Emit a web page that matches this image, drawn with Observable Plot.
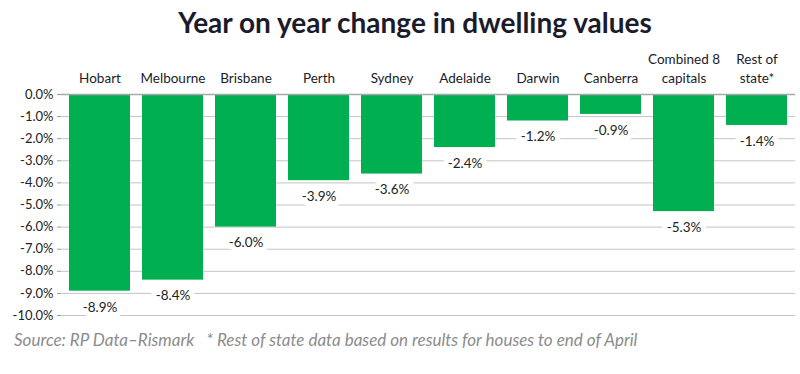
<!DOCTYPE html>
<html>
<head>
<meta charset="utf-8">
<script src="https://cdn.jsdelivr.net/npm/d3@7"></script>
<script src="https://cdn.jsdelivr.net/npm/@observablehq/plot@0.6"></script>
<style>
  html, body { margin: 0; padding: 0; background: #fff; }
  body { width: 800px; height: 374px; overflow: hidden; font-family: Lato, "Open Sans", sans-serif; }
  #title { height: 44px; line-height: 44px; font-size: 28px; font-weight: bold; color: #1b1b2b; text-align: center; padding-left: 30px; box-sizing: border-box; }
  #caption { font-size: 17px; font-style: italic; color: #8c8c8c; padding-left: 14px; margin-top: 4px; }
</style>
</head>
<body>
<div id="title">Year on year change in dwelling values</div>
<div id="chart"></div>
<div id="caption">Source: RP Data–Rismark&nbsp;&nbsp;&nbsp;* Rest of state data based on results for houses to end of April</div>
<script>
const categories = ["Hobart", "Melbourne", "Brisbane", "Perth", "Sydney", "Adelaide", "Darwin", "Canberra", "Combined 8\ncapitals", "Rest of\nstate*"];
const values = [-8.9, -8.4, -6.0, -3.9, -3.6, -2.4, -1.2, -0.9, -5.3, -1.4];
const yTicks = [0, -1, -2, -3, -4, -5, -6, -7, -8, -9, -10];

const data = categories.map((c, i) => ({category: c, value: values[i]}));
const fmt = d => (d === 0 ? "0.0" : d.toFixed(1)) + "%";

const chart = Plot.plot({
  width: 800,
  height: 281,
  marginTop: 50,
  marginBottom: 10,
  marginLeft: 61,
  marginRight: 5,
  style: {fontFamily: "Lato, 'Open Sans', sans-serif", fontSize: "12.5px", color: "#222", background: "#fff"},
  x: {domain: categories, paddingInner: 0.16, paddingOuter: 0.04, axis: null, label: null},
  y: {domain: [-10, 0], axis: null, label: null},
  marks: [
    Plot.ruleY(yTicks, {stroke: "#c4c4c4", strokeWidth: 1}),
    Plot.barY(data, {x: "category", y: "value", fill: "#00b050"}),
    Plot.text(data, {x: "category", y: "value", text: d => fmt(d.value), dy: 16, fill: "#222",
      stroke: "white", strokeWidth: 11, paintOrder: "stroke", fontSize: 13.5}),
    Plot.ruleY([0], {stroke: "#a8a8a8", strokeWidth: 1.5}),
    Plot.ruleX([0], {frameAnchor: "left", stroke: "#9a9a9a", strokeWidth: 1.5}),
    Plot.axisY(yTicks, {anchor: "left", label: null, tickFormat: fmt, tickSize: 4, tickPadding: 4, stroke: "#9a9a9a", fill: "#222", fontSize: 13}),
    Plot.axisX({anchor: "top", label: null, tickSize: 0, tickPadding: 12, lineAnchor: "bottom", lineHeight: 1.35, fill: "#1b1b2b", fontSize: 13.5})
  ]
});
document.getElementById("chart").appendChild(chart);
</script>
</body>
</html>
